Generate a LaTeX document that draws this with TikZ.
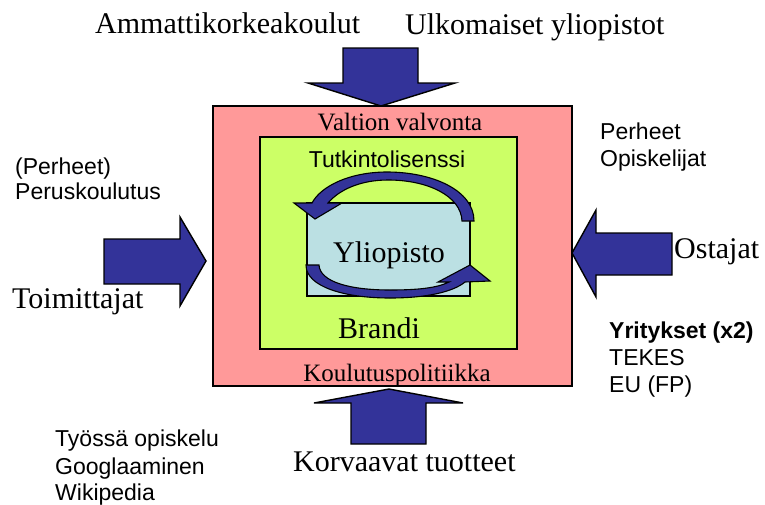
\documentclass[tikz,border=0pt]{standalone}
\usepackage{fontspec}
\setmainfont{Liberation Serif}
\newfontfamily\sansf{Liberation Sans}
\definecolor{pinkbg}{RGB}{255,153,153}
\definecolor{greenbg}{RGB}{204,255,102}
\definecolor{bluebg}{RGB}{187,224,227}
\definecolor{arrowblue}{RGB}{51,51,153}
\begin{document}
\begin{tikzpicture}[x=1pt,y=-1pt,
  box/.style={draw=black, line width=1.4pt, inner sep=0pt, outer sep=0pt},
  blockarrow/.style={fill=arrowblue, draw=black, line width=1.4pt, line join=miter},
  curvearrow/.style={fill=arrowblue, draw=black, line width=1.1pt, line join=miter},
  serifbig/.style={inner sep=0pt, font=\fontsize{30}{36}\selectfont},
  serifmid/.style={inner sep=0pt, font=\fontsize{25}{30}\selectfont},
  sanslbl/.style={inner sep=0pt, font=\sansf\fontsize{23}{27}\selectfont},
  sansbold/.style={inner sep=0pt, font=\sansf\bfseries\fontsize{23}{27}\selectfont},
]
\useasboundingbox (0,0) rectangle (765,504);

% nested boxes
\node[box, fill=pinkbg, minimum width=359pt, minimum height=280pt] (outer) at (392.5,246) {};
\node[box, fill=greenbg, minimum width=257pt, minimum height=212pt] (inner) at (388.5,243) {};
\node[box, fill=bluebg, minimum width=163pt, minimum height=93pt] (core) at (388.5,249.5) {};

% block arrows
\draw[blockarrow] (343,48) -- (418,48) -- (418,83) -- (455,83) -- (381,106)
  -- (308,83) -- (343,83) -- cycle;
\draw[blockarrow] (389,389) -- (463,403) -- (426,403) -- (426,444)
  -- (351,444) -- (351,403) -- (314,403) -- cycle;
\draw[blockarrow] (104,239) -- (180,239) -- (180,217) -- (206,261)
  -- (180,306) -- (180,284) -- (104,284) -- cycle;
\draw[blockarrow] (672,233) -- (596,233) -- (596,210) -- (572,253)
  -- (596,297) -- (596,275) -- (672,275) -- cycle;

% curved arrows around the core
\draw[curvearrow] (474,221) .. controls (474,190) and (432,172) .. (387,172)
  .. controls (350,172) and (321,186) .. (312,203)
  -- (294,203) -- (315,219) -- (342,203) -- (328,203)
  .. controls (339,190) and (360,180) .. (388,180)
  .. controls (428,180) and (461,196) .. (462,221) -- cycle;
\draw[curvearrow] (306,265) .. controls (306,287) and (345,298) .. (390,298)
  .. controls (426,298) and (453,292) .. (465,282)
  -- (490,281) -- (470,265) -- (438,282) -- (449,282)
  .. controls (437,288) and (418,290) .. (390,290)
  .. controls (350,290) and (320,282) .. (319,265) -- cycle;

% labels
\node[serifbig, anchor=base west] (amk) at (95,33) {Ammattikorkeakoulut};
\node[serifbig, anchor=base west] (ulk) at (405,34) {Ulkomaiset yliopistot};
\node[serifmid, anchor=base] (valtion) at (400,130) {Valtion valvonta};
\node[sanslbl, anchor=base] (tutk) at (387,167) {Tutkintolisenssi};
\node[serifbig, anchor=base] (ylio) at (389,262) {Yliopisto};
\node[serifbig, anchor=base] (brandi) at (379,338) {Brandi};
\node[serifmid, anchor=base] (koul) at (397,381) {Koulutuspolitiikka};
\node[serifbig, anchor=base west] (korv) at (293,471) {Korvaavat tuotteet};
\node[serifbig, anchor=base west] (toim) at (12,308) {Toimittajat};
\node[serifbig, anchor=base west] (ost) at (674,258) {Ostajat};

\node[sanslbl, anchor=base west] (perhA) at (15,174) {(Perheet)};
\node[sanslbl, anchor=base west] (perus) at (15,199) {Peruskoulutus};
\node[sanslbl, anchor=base west] (perhB) at (600,139) {Perheet};
\node[sanslbl, anchor=base west] (opisk) at (600,166) {Opiskelijat};
\node[sansbold, anchor=base west] (yrit) at (609,338) {Yritykset (x2)};
\node[sanslbl, anchor=base west] (tekes) at (609,365) {TEKES};
\node[sanslbl, anchor=base west] (eu) at (609,392) {EU (FP)};
\node[sanslbl, anchor=base west] (tyo) at (55,446) {Työssä opiskelu};
\node[sanslbl, anchor=base west] (goog) at (55,474) {Googlaaminen};
\node[sanslbl, anchor=base west] (wiki) at (55,500) {Wikipedia};
\end{tikzpicture}
\end{document}
